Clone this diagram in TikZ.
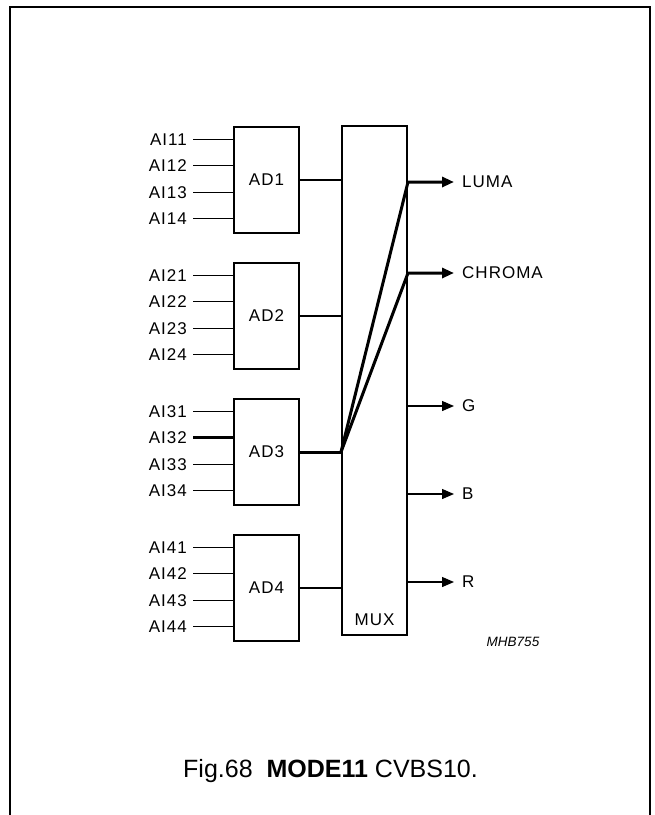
\documentclass[tikz,border=0pt]{standalone}
\usepackage{fontspec}
\setmainfont{Liberation Sans}
\newfontfamily\sigfont[LetterSpace=6]{Liberation Sans}
\usetikzlibrary{arrows.meta,positioning,calc}

\begin{document}
\begin{tikzpicture}[x=1pt, y=-1pt,
  font=\sigfont\fontsize{17}{19}\selectfont, >={Triangle[length=12pt,width=10pt]},
  adc/.style={draw, line width=2pt, minimum width=65pt, minimum height=106pt, inner sep=0pt},
  wire/.style={line width=1.3pt},
  bus/.style={line width=3pt},
  inlbl/.style={anchor=east, inner ysep=0pt, inner xsep=6pt},
  outlbl/.style={anchor=west, inner ysep=0pt, inner xsep=8pt}]
\useasboundingbox (0,0) rectangle (655,815);
\draw[line width=2pt] (10,815) -- (10,7) -- (650,7) -- (650,815);
% converters and multiplexer
\node[adc] (ad1) at (266.5,180) {AD1};
\node[adc, below=28pt of ad1] (ad2) {AD2};
\node[adc, below=28pt of ad2] (ad3) {AD3};
\node[adc, below=28pt of ad3] (ad4) {AD4};
\node[draw, line width=2pt, minimum width=65pt, minimum height=509pt] (mux) at (374.5,380.5) {};
\node[anchor=south, inner sep=0pt] (muxlbl) at ([yshift=10pt]mux.south) {MUX};
% analog inputs
\foreach \k in {1,...,4}{
  \foreach \j/\dy in {1/-39.75,2/-13.25,3/13.25,4/39.75}{
    \node[inlbl] (ai\k\j) at ($(ad\k.west)+(-40,\dy-1)$) {AI\k\j};
    \draw[wire] (ai\k\j) -- (ad\k.west |- ai\k\j);
  }
}
\draw[bus] (ai32) -- (ad3.west |- ai32);
\foreach \k in {1,2,4}
  \draw[wire] (ad\k) -- (mux.west |- ad\k);
% outputs
\node[outlbl] (luma) at (454,182) {LUMA};
\node[outlbl] (chroma) at (454,273) {CHROMA};
\node[outlbl] (g) at (454,406) {G};
\node[outlbl] (b) at (454,494) {B};
\node[outlbl] (r) at (454,582) {R};
\coordinate (join) at (mux.west |- ad3);
\draw[bus] (ad3) -- (join);
\draw[bus, ->] (join) -- (mux.east |- luma) -- (luma.west);
\draw[bus, ->] (join) -- (mux.east |- chroma) -- (chroma.west);
\foreach \o in {g,b,r}
  \draw[wire, ->] (mux.east |- \o) -- (\o.west);
\node[font=\itshape\fontsize{13.5}{15}\selectfont] (code) at (513,642) {MHB755};
\node[font=\fontsize{25}{28}\selectfont] (caption) at (330.5,771) {Fig.68\ \ \textbf{MODE11} CVBS10.};
\end{tikzpicture}
\end{document}
